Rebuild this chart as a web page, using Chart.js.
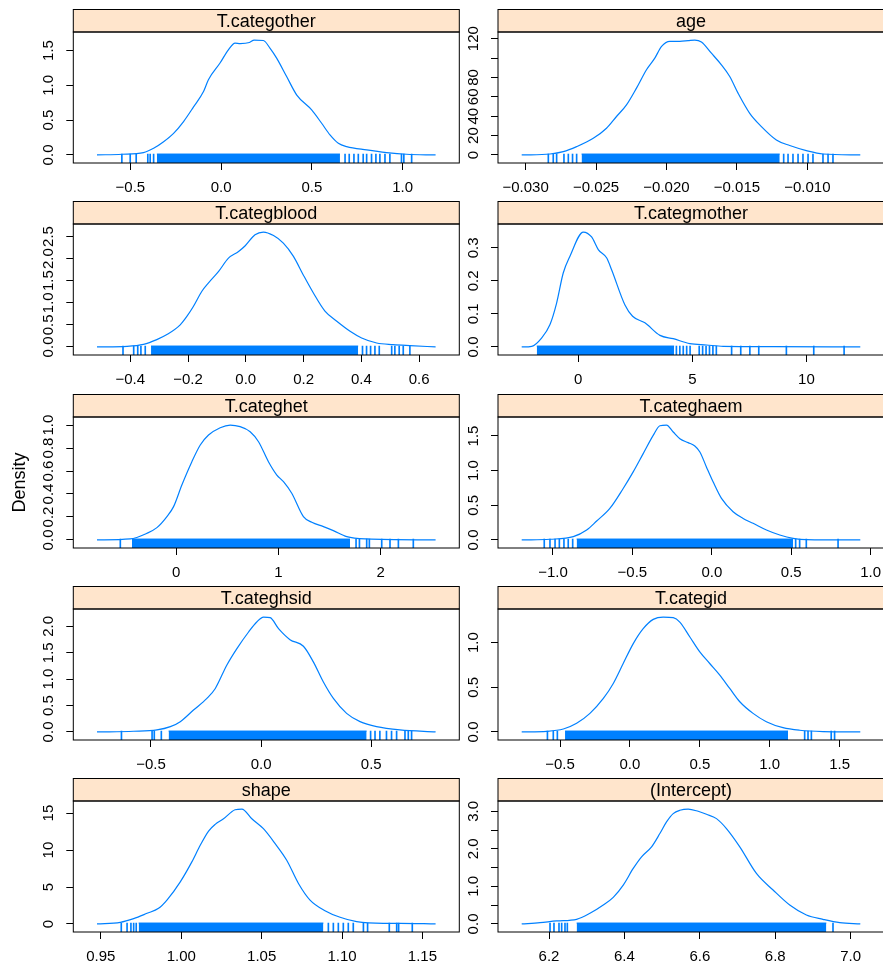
<!DOCTYPE html>
<html>
<head>
<meta charset="utf-8">
<script src="https://cdn.jsdelivr.net/npm/chart.js@4.4.1/dist/chart.umd.min.js"></script>
<style>
  html, body { margin: 0; padding: 0; background: #fff; }
  #page { position: relative; width: 883px; height: 967px; overflow: hidden; background: #fff; }
  .panel { position: absolute; }
</style>
</head>
<body>
<div id="page"></div>
<script>
// panels in reading order (left to right, top to bottom)
const panelNames = ['T.categother', 'age', 'T.categblood', 'T.categmother', 'T.categhet',
  'T.categhaem', 'T.categhsid', 'T.categid', 'shape', '(Intercept)'];

// density curves, x and y
const densX = [
  [-0.684,-0.547,-0.428,-0.372,-0.317,-0.262,-0.207,-0.152,-0.097,-0.070,-0.006,0.040,0.077,0.105,0.156,0.182,0.233,0.270,0.306,0.361,0.417,0.499,0.554,0.600,0.646,0.692,0.802,0.912,1.022,1.182],
  [-0.03028,-0.02827,-0.02733,-0.02638,-0.02520,-0.02426,-0.02355,-0.02284,-0.02213,-0.02142,-0.02083,-0.02035,-0.01976,-0.01905,-0.01846,-0.01799,-0.01752,-0.01681,-0.01610,-0.01551,-0.01492,-0.01409,-0.01326,-0.01220,-0.01125,-0.01007,-0.00889,-0.00624],
  [-0.515,-0.411,-0.354,-0.308,-0.273,-0.227,-0.204,-0.181,-0.152,-0.129,-0.094,-0.060,-0.025,-0.002,0.032,0.061,0.096,0.130,0.165,0.199,0.234,0.274,0.315,0.361,0.401,0.453,0.510,0.568,0.657],
  [-2.48,-2.04,-1.61,-1.24,-0.95,-0.66,-0.365,0.219,0.584,0.876,1.24,1.46,2.04,2.38,2.92,3.58,4.16,4.89,5.62,6.35,8.54,12.36],
  [-0.775,-0.45,-0.287,-0.189,-0.091,-0.026,0.055,0.153,0.235,0.316,0.430,0.528,0.625,0.723,0.805,0.902,0.984,1.049,1.130,1.244,1.326,1.440,1.537,1.668,1.863,2.537],
  [-1.197,-1.019,-0.872,-0.788,-0.725,-0.642,-0.558,-0.495,-0.432,-0.369,-0.327,-0.285,-0.243,-0.201,-0.149,-0.107,-0.075,-0.034,0.008,0.061,0.134,0.197,0.260,0.344,0.428,0.512,0.595,0.935],
  [-0.745,-0.579,-0.473,-0.412,-0.367,-0.307,-0.246,-0.208,-0.156,-0.110,-0.057,-0.020,0.011,0.041,0.079,0.131,0.192,0.237,0.282,0.328,0.388,0.449,0.524,0.630,0.792],
  [-0.774,-0.595,-0.476,-0.381,-0.286,-0.190,-0.119,-0.048,0.024,0.095,0.167,0.238,0.310,0.357,0.429,0.500,0.571,0.643,0.714,0.786,0.881,0.976,1.095,1.214,1.381,1.648],
  [0.9476,0.9621,0.9704,0.9787,0.9859,0.9911,0.9994,1.0066,1.0118,1.0170,1.0211,1.0263,1.0335,1.0377,1.0439,1.0511,1.0584,1.0656,1.0729,1.0801,1.0894,1.0988,1.1091,1.1257,1.1360,1.1582],
  [6.1276,6.1762,6.2203,6.2733,6.3086,6.3439,6.3704,6.3969,6.4234,6.4455,6.4720,6.4940,6.5117,6.5294,6.5470,6.5691,6.5956,6.6177,6.6442,6.6706,6.7060,6.7501,6.7943,6.8384,6.8826,6.9267,6.9709,7.0256]
];
const densY = [
  [0,0.01,0.034,0.096,0.19,0.31,0.48,0.69,0.91,1.08,1.32,1.51,1.605,1.60,1.615,1.65,1.643,1.53,1.39,1.126,0.86,0.647,0.455,0.288,0.168,0.12,0.072,0.034,0.01,0],
  [0,1,3.4,8.6,17.2,27.6,39.7,51.7,69,88,100,112,117.2,117.2,118,118.6,116.6,105,93,81,63.8,43,29.3,15.5,9.7,4.5,1,0],
  [0,0.015,0.06,0.166,0.28,0.50,0.69,0.92,1.26,1.45,1.71,2.01,2.16,2.29,2.54,2.60,2.52,2.35,2.05,1.63,1.22,0.81,0.58,0.354,0.203,0.09,0.053,0.03,0],
  [0,0.002,0.027,0.068,0.133,0.224,0.275,0.348,0.333,0.295,0.27,0.234,0.128,0.093,0.073,0.035,0.025,0.010,0.006,0.002,0.001,0],
  [0,0.009,0.058,0.107,0.203,0.29,0.478,0.681,0.826,0.913,0.977,1.0,0.986,0.942,0.855,0.681,0.565,0.507,0.406,0.203,0.154,0.116,0.081,0.029,0.009,0],
  [0,0.01,0.048,0.144,0.273,0.455,0.743,0.982,1.246,1.509,1.648,1.658,1.557,1.461,1.404,1.356,1.27,1.054,0.839,0.599,0.407,0.311,0.24,0.144,0.072,0.024,0.005,0],
  [0,0.013,0.038,0.10,0.195,0.415,0.635,0.824,1.264,1.579,1.893,2.082,2.176,2.164,1.956,1.748,1.623,1.327,0.95,0.635,0.352,0.195,0.10,0.038,0],
  [0,0.007,0.033,0.097,0.208,0.375,0.543,0.766,0.989,1.156,1.26,1.286,1.279,1.23,1.063,0.896,0.766,0.636,0.487,0.338,0.208,0.115,0.048,0.019,0.004,0],
  [0,0.22,0.72,1.44,2.11,3.23,5.7,8.4,10.64,12.57,13.47,14.23,15.45,15.55,14.23,12.89,10.87,8.62,5.48,3.23,1.80,0.9,0.31,0.09,0.09,0],
  [0,0.035,0.08,0.124,0.283,0.504,0.708,1.035,1.478,1.788,2.053,2.407,2.717,2.938,3.027,3.06,3.0,2.92,2.805,2.54,2.053,1.345,0.903,0.504,0.239,0.124,0.035,0]
];

// rug: isolated sample ticks, and [from, to] runs where the ticks merge into a band
const rugTicks = [
  [-0.547,-0.501,-0.468,-0.404,-0.391,-0.372,0.683,0.706,0.732,0.756,0.783,0.802,0.829,0.853,0.875,0.903,0.930,0.994,1.007,1.050],
  [-0.02839,-0.02804,-0.02780,-0.02728,-0.02697,-0.02667,-0.02638,-0.01168,-0.01137,-0.01102,-0.01066,-0.01031,-0.00995,-0.00960,-0.00889,-0.00853,-0.00818],
  [-0.425,-0.388,-0.374,-0.363,-0.348,0.404,0.418,0.432,0.447,0.462,0.505,0.516,0.531,0.545,0.568],
  [4.3,4.45,4.6,4.75,4.9,5.3,5.45,5.6,5.75,5.9,6.05,6.72,7.12,7.52,7.91,9.12,10.32,11.65],
  [-0.547,1.759,1.792,1.863,1.889,2.010,2.091,2.173,2.319],
  [-1.055,-1.019,-0.987,-0.960,-0.931,-0.904,-0.876,0.528,0.553,0.595,0.795],
  [-0.634,-0.495,-0.485,-0.453,0.497,0.517,0.539,0.569,0.592,0.615,0.653,0.668,0.683],
  [-0.590,-0.548,-0.519,1.25,1.274,1.298,1.440,1.464],
  [0.9627,0.9663,0.9687,0.9704,0.9720,1.0915,1.0946,1.0977,1.1008,1.1039,1.1070,1.1133,1.1159,1.1294,1.1340,1.1352,1.1437],
  [6.2027,6.2132,6.2265,6.2336,6.2424,6.2486,6.9532]
];
const rugBands = [
  [[-0.354, 0.655]],
  [[-0.02603, -0.01196]],
  [[-0.328, 0.389]],
  [[-1.82, 4.2]],
  [[-0.433, 1.70]],
  [[-0.851, 0.512]],
  [[-0.42, 0.479]],
  [[-0.464, 1.131]],
  [[0.9735, 1.0884]],
  [[6.2733, 6.9355]]
];

// axis ticks and their labels ('' = tick mark without a label)
const xTicks = [
  [-0.5, 0, 0.5, 1],
  [-0.030, -0.025, -0.020, -0.015, -0.010],
  [-0.4, -0.2, 0, 0.2, 0.4, 0.6],
  [0, 5, 10],
  [0, 1, 2],
  [-1, -0.5, 0, 0.5, 1],
  [-0.5, 0, 0.5],
  [-0.5, 0, 0.5, 1, 1.5],
  [0.95, 1.00, 1.05, 1.10, 1.15],
  [6.2, 6.4, 6.6, 6.8, 7.0]
];
const xLabels = [
  ['−0.5', '0.0', '0.5', '1.0'],
  ['−0.030', '−0.025', '−0.020', '−0.015', '−0.010'],
  ['−0.4', '−0.2', '0.0', '0.2', '0.4', '0.6'],
  ['0', '5', '10'],
  ['0', '1', '2'],
  ['−1.0', '−0.5', '0.0', '0.5', '1.0'],
  ['−0.5', '0.0', '0.5'],
  ['−0.5', '0.0', '0.5', '1.0', '1.5'],
  ['0.95', '1.00', '1.05', '1.10', '1.15'],
  ['6.2', '6.4', '6.6', '6.8', '7.0']
];
const yTicks = [
  [0, 0.5, 1, 1.5],
  [0, 20, 40, 60, 80, 100, 120],
  [0, 0.5, 1, 1.5, 2, 2.5],
  [0, 0.1, 0.2, 0.3],
  [0, 0.2, 0.4, 0.6, 0.8, 1],
  [0, 0.5, 1, 1.5],
  [0, 0.5, 1, 1.5, 2],
  [0, 0.5, 1],
  [0, 5, 10, 15],
  [0, 0.5, 1, 1.5, 2, 2.5, 3]
];
const yLabels = [
  ['0.0', '0.5', '1.0', '1.5'],
  ['0', '20', '40', '60', '80', '', '120'],
  ['0.0', '0.5', '1.0', '1.5', '2.0', '2.5'],
  ['0.0', '0.1', '0.2', '0.3'],
  ['0.0', '0.2', '0.4', '0.6', '0.8', '1.0'],
  ['0.0', '0.5', '1.0', '1.5'],
  ['0.0', '0.5', '1.0', '1.5', '2.0'],
  ['0.0', '0.5', '1.0'],
  ['0', '5', '10', '15'],
  ['0.0', '', '1.0', '', '2.0', '', '3.0']
];

// look
const BLUE = '#0080ff';
const STRIP_BG = '#ffe5cc';
const FONT = '"Liberation Sans", Arial, Helvetica, sans-serif';
const PLOT_TOP = [32.3, 224.3, 416.5, 608.6, 800.7];
const PLOT_H = 131;
const STRIP_H = 22.5;
const TOP_PAD = 32;
const XAXIS_H = 29;
const COL_LEFT = [0, 462];
const COL_W = [462, 430];
const YAXIS_W = [73.3, 36];
const PAD_RIGHT = [2.7, 8];

Chart.defaults.font.family = FONT;
Chart.defaults.color = '#000';

const measure = document.createElement('canvas').getContext('2d');
measure.font = '15px ' + FONT;

// lattice pads the data range by 7% on each side
function limits(xs, ys) {
  const x0 = Math.min(...xs), x1 = Math.max(...xs);
  const y0 = Math.min(0, ...ys), y1 = Math.max(...ys);
  const dx = (x1 - x0) * 0.07, dy = (y1 - y0) * 0.07;
  return { xmin: x0 - dx, xmax: x1 + dx, ymin: y0 - dy, ymax: y1 + dy, peak: y1 };
}

const framePlugin = {
  id: 'frame',
  afterDraw(chart, args, opts) {
    const { ctx, chartArea: a } = chart;
    const w = a.right - a.left;
    ctx.save();
    ctx.lineWidth = 1;
    ctx.strokeStyle = '#000';
    ctx.fillStyle = STRIP_BG;
    ctx.fillRect(a.left, a.top - STRIP_H, w, STRIP_H);
    ctx.strokeRect(a.left, a.top - STRIP_H, w, STRIP_H);
    ctx.strokeRect(a.left, a.top, w, a.bottom - a.top);
    ctx.fillStyle = '#000';
    ctx.font = '18px ' + FONT;
    ctx.textAlign = 'center';
    ctx.textBaseline = 'middle';
    ctx.fillText(opts.label, a.left + w / 2, a.top - STRIP_H / 2 + 1);
    ctx.restore();
  }
};

const page = document.getElementById('page');

panelNames.forEach(function (name, i) {
  const col = i % 2;
  const row = Math.floor(i / 2);
  const W = COL_W[col];
  const H = TOP_PAD + PLOT_H + XAXIS_H;

  const box = document.createElement('div');
  box.className = 'panel';
  box.style.left = COL_LEFT[col] + 'px';
  box.style.top = (PLOT_TOP[row] - TOP_PAD) + 'px';
  box.style.width = W + 'px';
  box.style.height = H + 'px';
  const canvas = document.createElement('canvas');
  canvas.width = W;
  canvas.height = H;
  canvas.style.width = W + 'px';
  canvas.style.height = H + 'px';
  box.appendChild(canvas);
  page.appendChild(box);

  const lim = limits(densX[i], densY[i]);
  const rugTop = lim.peak * 0.008;
  const widest = Math.max(...yLabels[i].map(s => measure.measureText(s).width));
  const yPad = 24 - 7 - widest / 2;

  const datasets = [{
    type: 'line',
    data: densX[i].map((x, k) => ({ x: x, y: densY[i][k] })),
    borderColor: BLUE,
    borderWidth: 1.2,
    pointRadius: 0,
    cubicInterpolationMode: 'monotone',
    fill: false
  }];
  rugBands[i].forEach(function (b) {
    datasets.push({
      type: 'line',
      data: [{ x: b[0], y: rugTop }, { x: b[1], y: rugTop }],
      borderColor: BLUE,
      borderWidth: 1,
      backgroundColor: BLUE,
      pointRadius: 0,
      fill: { value: lim.ymin }
    });
  });
  datasets.push({
    type: 'bar',
    data: rugTicks[i].map(v => ({ x: v, y: [lim.ymin, rugTop] })),
    backgroundColor: BLUE,
    borderWidth: 0,
    barThickness: 1
  });

  new Chart(canvas, {
    type: 'line',
    data: { datasets: datasets },
    options: {
      responsive: false,
      animation: false,
      events: [],
      layout: { padding: { top: TOP_PAD, left: 0, right: PAD_RIGHT[col], bottom: 0 } },
      plugins: {
        legend: { display: false },
        tooltip: { enabled: false },
        frame: { label: name }
      },
      scales: {
        x: {
          type: 'linear',
          min: lim.xmin,
          max: lim.xmax,
          offset: false,
          afterBuildTicks: s => { s.ticks = xTicks[i].map(v => ({ value: v })); },
          afterFit: s => { s.height = XAXIS_H; },
          ticks: {
            autoSkip: false, minRotation: 0, maxRotation: 0, padding: 9,
            font: { size: 15 }, color: '#000',
            callback: (v, k) => xLabels[i][k]
          },
          grid: { drawOnChartArea: false, offset: false, tickLength: 7, color: '#000' },
          border: { display: false }
        },
        y: {
          type: 'linear',
          min: lim.ymin,
          max: lim.ymax,
          afterBuildTicks: s => { s.ticks = yTicks[i].map(v => ({ value: v })); },
          afterFit: s => { s.width = YAXIS_W[col]; },
          ticks: {
            autoSkip: false, minRotation: 90, maxRotation: 90, crossAlign: 'center',
            padding: yPad, font: { size: 15 }, color: '#000',
            callback: (v, k) => yLabels[i][k]
          },
          grid: { drawOnChartArea: false, tickLength: 7, color: '#000' },
          border: { display: false },
          title: {
            display: i === 4,
            text: 'Density',
            font: { size: 18 },
            color: '#000',
            padding: { top: 9, bottom: 0 }
          }
        }
      }
    },
    plugins: [framePlugin]
  });
});
</script>
</body>
</html>
